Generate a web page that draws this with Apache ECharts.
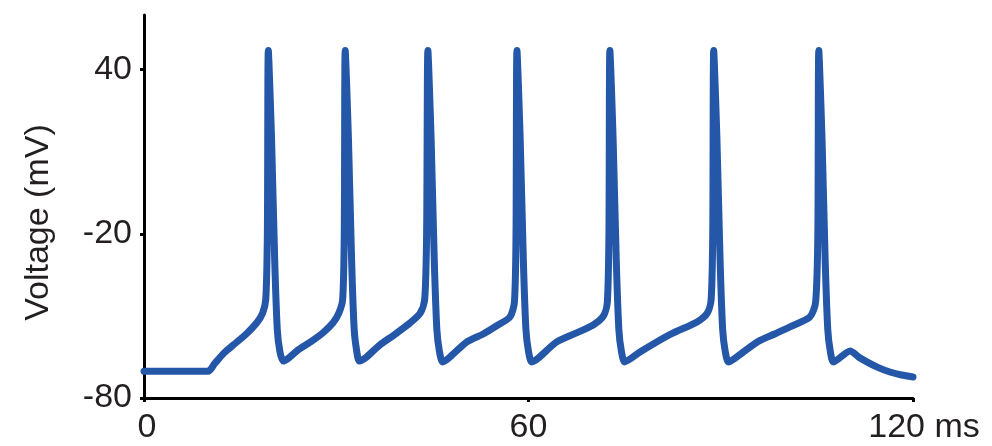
<script src="https://cdn.jsdelivr.net/npm/echarts@6/dist/echarts.min.js"></script>
<style>body { margin: 0 }</style>
<div id="chart" style="width: 992px; height: 446px"></div>

<script>
  // membrane trace: time (ms) and voltage (mV)
  const timeMs = [
    0, 10.0, 11.0, 12.5, 14.0, 16.0, 17.6, 18.5, 19.0, 19.25,
    19.4, 19.9, 20.4, 20.8, 21.2, 21.7, 22.5, 24.0, 26.0, 28.0,
    29.5, 30.4, 31.0, 31.25, 31.4, 31.9, 32.4, 32.8, 33.2, 33.6,
    34.5, 36.8, 39.0, 41.5, 43.1, 43.8, 44.1, 44.3, 44.8, 45.3,
    45.7, 46.1, 46.6, 47.5, 50.4, 53.0, 55.1, 57.1, 57.8, 58.05,
    58.2, 58.7, 59.2, 59.6, 60.0, 60.5, 61.5, 64.4, 67.5, 70.1,
    71.7, 72.3, 72.55, 72.7, 73.2, 73.7, 74.1, 74.5, 75.0, 76.0,
    77.4, 80.0, 82.6, 86.3, 87.9, 88.5, 88.75, 88.9, 89.4, 89.9,
    90.3, 90.7, 91.2, 92.2, 95.7, 98.5, 100.8, 103.9, 104.8, 105.15,
    105.3, 105.8, 106.3, 106.7, 107.1, 107.6, 110.2, 111.5, 112.8, 114.5,
    116.4, 118.2, 120
  ]
  const voltageMv = [
    -70.2, -70.2, -67.5, -63.5, -60.5, -56.5, -52.5, -49, -44, -20,
    47, 15, -30, -55, -63, -66.5, -65.5, -62.5, -59.5, -56,
    -52.5, -49, -44, -20, 47, 15, -30, -55, -63, -66.5,
    -65.5, -60.6, -57, -52.6, -49, -44, -20, 47, 15, -30,
    -55, -63, -66.8, -65.5, -59.5, -56.5, -53.5, -50.4, -45, -20,
    47, 15, -30, -55, -63, -66.8, -65.5, -59.5, -56.2, -53.3,
    -50, -45, -20, 47, 15, -30, -55, -63, -66.8, -65.5,
    -63.2, -59.5, -56.2, -52.2, -49, -44, -20, 47, 15, -30,
    -55, -63, -66.8, -65.5, -59.5, -56.5, -54, -50.4, -45, -20,
    47, 15, -30, -55, -63, -66.8, -62.8, -65, -66.8, -68.8,
    -70.5, -71.6, -72.3
  ]
  const xTicks = [0, 60, 120]
  const yTicks = [-80, -20, 40]

  const font = '"Liberation Sans", Arial, sans-serif'
  const ink = '#231f20'
  const fs = 34

  const myChart = echarts.init(document.getElementById('chart'))

  const axisBase = {
    type: 'value',
    splitLine: { show: false },
    axisLine: { onZero: false, lineStyle: { color: '#000', width: 3 } },
    axisTick: { length: 4, lineStyle: { color: '#000', width: 3 } }
  }

  myChart.setOption({
    animation: false,
    grid: { left: 144, right: 79, top: 15, bottom: 48, outerBoundsMode: 'none' },
    xAxis: {
      ...axisBase,
      min: xTicks[0],
      max: xTicks[xTicks.length - 1],
      interval: xTicks[1] - xTicks[0],
      axisLabel: {
        margin: 0,
        fontSize: fs,
        fontFamily: font,
        color: ink,
        formatter: v => {
          if (v === xTicks[0]) return '{a|' + v + '}'
          if (v === xTicks[xTicks.length - 1]) return '{b|' + v + ' ms}'
          return '' + v
        },
        rich: {
          a: { fontSize: fs, fontFamily: font, color: ink, padding: [0, 0, 0, 6] },
          b: { fontSize: fs, fontFamily: font, color: ink, padding: [0, 0, 0, 22] }
        }
      }
    },
    yAxis: {
      ...axisBase,
      min: yTicks[0],
      max: 60,
      interval: yTicks[1] - yTicks[0],
      name: 'Voltage (mV)',
      nameLocation: 'middle',
      nameGap: 76,
      nameTextStyle: { fontSize: fs, fontFamily: font, color: ink, padding: [0, 32, 0, 0] },
      axisLabel: {
        margin: 12,
        fontSize: fs,
        fontFamily: font,
        color: ink,
        showMaxLabel: false,
        formatter: v => (yTicks.includes(v) ? '' + v : '')
      }
    },
    series: [
      {
        type: 'line',
        data: timeMs.map((t, i) => [t, voltageMv[i]]),
        showSymbol: false,
        smooth: 0.25,
        lineStyle: { color: '#2457a8', width: 7, cap: 'round', join: 'round' }
      }
    ]
  })
</script>
